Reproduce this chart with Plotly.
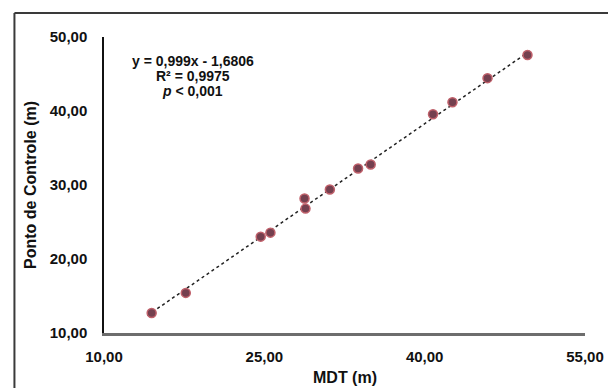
import numpy as np
import plotly.graph_objects as go

# Data
mdt = [14.46, 17.65, 24.66, 25.57, 28.76, 28.85, 31.13, 33.77, 34.95, 40.78, 42.60, 45.88, 49.62]
ponto = [12.71, 15.42, 23.02, 23.56, 28.17, 26.81, 29.39, 32.24, 32.78, 39.56, 41.19, 44.44, 47.56]
slope = 0.999
intercept = -1.6806
x_ticks = [10, 25, 40, 55]
x_ticktext = ["10,00", "25,00", "40,00", "55,00"]
y_ticks = [10, 20, 30, 40, 50]
y_ticktext = ["10,00", "20,00", "30,00", "40,00", "50,00"]
eq_lines = ["y = 0,999x - 1,6806", "R² = 0,9975", "<i>p</i> < 0,001"]

FONT = "Liberation Sans, Arial, sans-serif"

fig = go.Figure()

xl = np.array([min(mdt) - 0.4, max(mdt) + 0.4])
fig.add_trace(go.Scatter(
    x=xl, y=slope * xl + intercept, mode="lines",
    line=dict(color="#222222", width=1.5, dash="dot"),
    hoverinfo="skip", showlegend=False))

fig.add_trace(go.Scatter(
    x=mdt, y=ponto, mode="markers",
    marker=dict(size=9, color="#74404f", line=dict(color="#c0606a", width=1.5)),
    showlegend=False))

for i, t in enumerate(eq_lines):
    fig.add_annotation(x=18.3, y=46.7 - i * 2.03, xref="x", yref="y", text="<b>" + t + "</b>",
                       showarrow=False, xanchor="center", yanchor="middle",
                       font=dict(family=FONT, size=14, color="#111111"))

fig.add_annotation(x=0.5, y=-0.152, xref="paper", yref="paper", text="<b>MDT (m)</b>",
                   showarrow=False, xanchor="center", yanchor="middle",
                   font=dict(family=FONT, size=16, color="#111111"))
fig.add_annotation(x=-0.154, y=0.5, xref="paper", yref="paper", text="<b>Ponto de Controle (m)</b>",
                   showarrow=False, xanchor="center", yanchor="middle", textangle=-90,
                   font=dict(family=FONT, size=16, color="#111111"))

# Outer frame lines
fig.add_shape(type="line", xref="paper", yref="paper", x0=-0.1862, x1=-0.1862, y0=-0.3, y1=1.081,
              line=dict(color="#3a3a3a", width=2))
fig.add_shape(type="line", xref="paper", yref="paper", x0=-0.1862, x1=1.2, y0=1.081, y1=1.081,
              line=dict(color="#3a3a3a", width=2))

# The page body adds an 8px offset, so the figure is 8px smaller and margins shifted
fig.update_layout(
    width=608, height=380,
    margin=dict(l=96, r=18, t=29, b=55),
    paper_bgcolor="white", plot_bgcolor="white",
    font=dict(family=FONT, color="#111111"),
    xaxis=dict(range=[10, 55], tickvals=x_ticks, ticktext=["<b>%s</b>" % t for t in x_ticktext],
               showgrid=False, zeroline=False, showline=True, linecolor="#6d6d6d", linewidth=2.5,
               ticks="", ticklabelstandoff=8, ticklabeloverflow="allow",
               tickfont=dict(size=15, family=FONT, color="#111111")),
    yaxis=dict(range=[10, 50], tickvals=y_ticks, ticktext=["<b>%s</b>" % t for t in y_ticktext],
               showgrid=False, zeroline=False, showline=True, linecolor="#111111", linewidth=1.5,
               ticks="", ticklabelstandoff=12, tickfont=dict(size=15, family=FONT, color="#111111")),
)

fig.write_html("out.html")
